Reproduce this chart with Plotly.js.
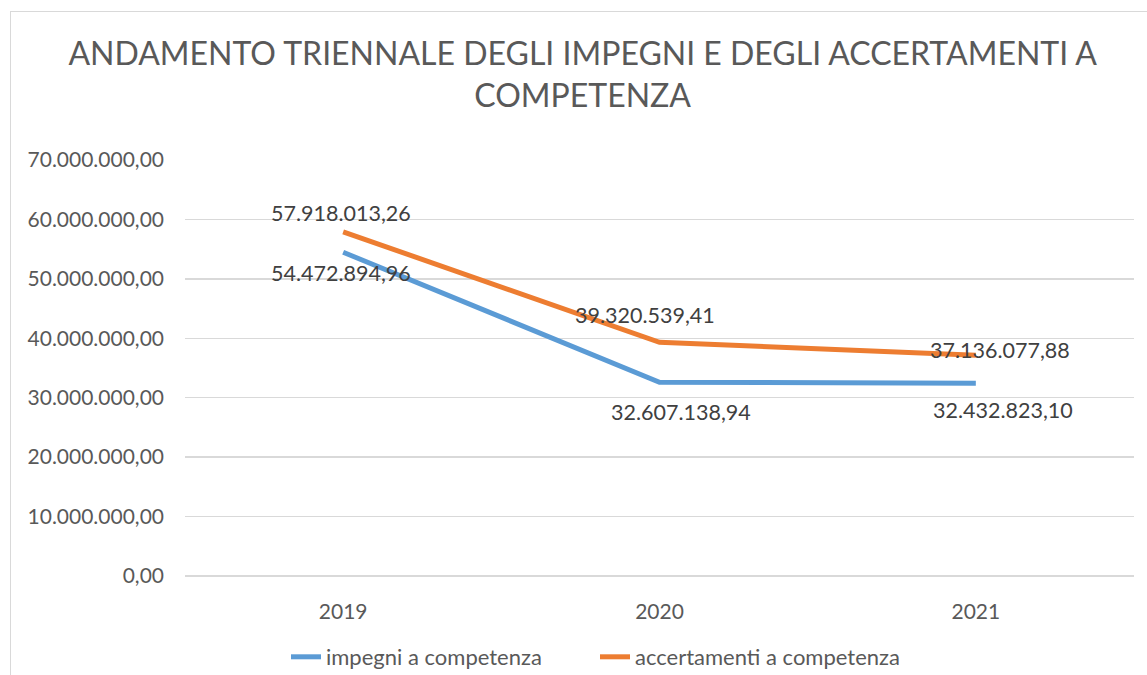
<!DOCTYPE html>
<html>
<head>
<meta charset="utf-8">
<script src="https://cdn.plot.ly/plotly-3.0.1.min.js"></script>
<style>
  html, body { margin: 0; padding: 0; background: #fff; }
  #wrap { position: relative; width: 1147px; height: 675px; overflow: hidden; }
  #chart { width: 1147px; height: 675px; }
  #frame { position: absolute; left: 10px; top: 11px; width: 1200px; height: 700px;
           border-left: 1.5px solid #d9d9d9; border-top: 1.5px solid #d9d9d9; pointer-events: none; }
</style>
</head>
<body>
<div id="wrap"><div id="chart"></div><div id="frame"></div></div>
<script>
const years = ['2019', '2020', '2021'];
const impegni = [54472894.96, 32607138.94, 32432823.10];
const accertamenti = [57918013.26, 39320539.41, 37136077.88];
const seriesNames = ['impegni a competenza', 'accertamenti a competenza'];
const yTicks = [0, 10000000, 20000000, 30000000, 40000000, 50000000, 60000000, 70000000];

function fmt(v) {
  const parts = v.toFixed(2).split('.');
  const intPart = parts[0].replace(/\B(?=(\d{3})+(?!\d))/g, '.');
  return intPart + ',' + parts[1];
}

const BLUE = '#5B9BD5', ORANGE = '#ED7D31';
const FONT = 'Lato, "Open Sans", sans-serif';

const traces = [
  { x: years, y: impegni, name: seriesNames[0], type: 'scatter', mode: 'lines',
    line: { color: BLUE, width: 5 }, hoverinfo: 'skip' },
  { x: years, y: accertamenti, name: seriesNames[1], type: 'scatter', mode: 'lines',
    line: { color: ORANGE, width: 5 }, hoverinfo: 'skip' }
];

const blueShift = [[-2, -21], [21, -30], [27, -27]];
const orangeShift = [[-2, 19], [-15, 27], [24, 5]];
const annotations = [];
for (let i = 0; i < years.length; i++) {
  annotations.push({ x: i, y: impegni[i], xref: 'x', yref: 'y', text: fmt(impegni[i]),
    showarrow: false, xshift: blueShift[i][0], yshift: blueShift[i][1],
    font: { family: FONT, size: 21.5, color: '#404040' } });
  annotations.push({ x: i, y: accertamenti[i], xref: 'x', yref: 'y', text: fmt(accertamenti[i]),
    showarrow: false, xshift: orangeShift[i][0], yshift: orangeShift[i][1],
    font: { family: FONT, size: 21.5, color: '#404040' } });
}

const layout = {
  width: 1147, height: 675,
  margin: { l: 185, r: 13, t: 160, b: 99 },
  paper_bgcolor: '#fff', plot_bgcolor: '#fff',
  separators: ',.',
  font: { family: FONT, color: '#595959' },
  title: {
    text: 'ANDAMENTO TRIENNALE DEGLI IMPEGNI E DEGLI ACCERTAMENTI A<br>COMPETENZA',
    font: { family: FONT, size: 32, color: '#595959' },
    x: 0.508, xanchor: 'center', xref: 'container',
    y: 1 - 65 / 675, yanchor: 'middle', yref: 'container'
  },
  xaxis: {
    type: 'category', range: [-0.5, 2.5], showgrid: false, zeroline: false,
    showline: false, ticks: '', tickfont: { family: FONT, size: 21, color: '#595959' },
    ticklabelstandoff: 21, fixedrange: true
  },
  yaxis: {
    range: [0, 70000000], tickvals: yTicks, tickformat: ',.2f',
    showgrid: true, gridcolor: '#d9d9d9', gridwidth: 1.5,
    zeroline: true, zerolinecolor: '#d9d9d9', zerolinewidth: 1.5,
    showline: false, ticks: '', tickfont: { family: FONT, size: 21, color: '#595959' },
    ticklabelstandoff: 20, fixedrange: true
  },
  showlegend: true,
  legend: {
    orientation: 'h', xref: 'container', x: 286 / 1147, xanchor: 'left',
    yref: 'container', y: 1 - 657 / 675, yanchor: 'middle',
    font: { family: FONT, size: 22, color: '#595959' },
    itemwidth: 30, tracegroupgap: 0, entrywidth: 264
  },
  annotations: annotations
};

Plotly.newPlot('chart', traces, layout, { displayModeBar: false, staticPlot: true });
</script>
</body>
</html>
